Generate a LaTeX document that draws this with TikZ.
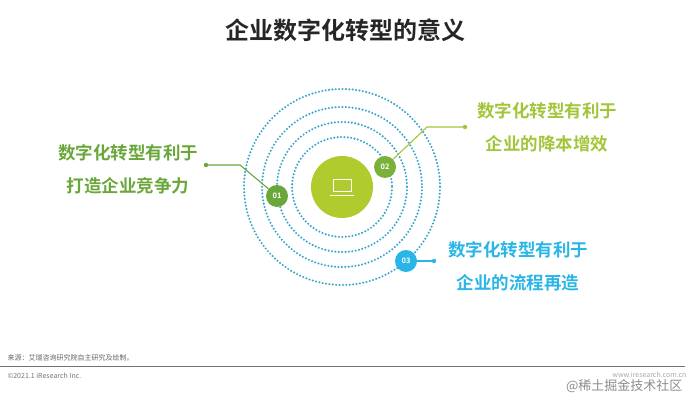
\documentclass[tikz,border=0pt]{standalone}
\usepackage{fontspec}
\newfontfamily\cjk{Noto Sans CJK SC}
\newfontfamily\cjkb{Noto Sans CJK SC Bold}
\begin{document}
\begin{tikzpicture}[x=1pt,y=-1pt,
  ring/.style={draw=ringc, line width=2.3pt, dash pattern=on 0pt off 3.4pt, line cap=round},
  badge/.style={circle, minimum size=22pt, inner sep=0pt, text=white, font=\cjkb\fontsize{7.5}{7.5}\selectfont},
  lead/.style={line width=1.1pt},
  txt/.style={font=\cjkb\fontsize{17.5}{33}\selectfont, align=center}]
\definecolor{g1}{HTML}{6AA73A}
\definecolor{g2}{HTML}{A2C53A}
\definecolor{b1}{HTML}{29B6E6}
\definecolor{core}{HTML}{AFCB2E}
\definecolor{ringc}{HTML}{3AA6C8}
\useasboundingbox (0,0) rectangle (695,404);
\node[font=\cjkb\fontsize{24}{24}\selectfont, text=black!85] (title) at (345,30) {企业数字化转型的意义};
\coordinate (c) at (342,187);
\foreach \r in {50,65,80,98} \draw[ring] (c) circle (\r);
\node[circle, fill=core, minimum size=62pt, inner sep=0pt] (core) at (c) {};
\draw[white, line width=1pt] (333,179) rectangle (351,191);
\draw[white, line width=1pt] (330,195) -- (354,195);
\node[badge, fill=g1] (b1n) at (277,196) {01};
\node[badge, fill=g1!70!g2] (b2n) at (385,167) {02};
\node[badge, fill=b1] (b3n) at (406,261) {03};
\coordinate (k1) at (240,165); \coordinate (e1) at (206,165);
\coordinate (k2) at (427,127); \coordinate (e2) at (465,127);
\coordinate (e3) at (434,261);
\draw[lead, draw=g1] (b1n) -- (k1) -- (e1);
\fill[g1] (e1) circle (2.2);
\draw[lead, draw=g2] (b2n) -- (k2) -- (e2);
\fill[g2] (e2) circle (2.2);
\draw[lead, draw=b1] (b3n) -- (e3);
\fill[b1] (e3) circle (2.2);
\node[txt, text=g1] (t1) at (128,169) {数字化转型有利于\\打造企业竞争力};
\node[txt, text=g2] (t2) at (547,127) {数字化转型有利于\\企业的降本增效};
\node[txt, text=b1] (t3) at (518,266) {数字化转型有利于\\企业的流程再造};
\node[anchor=west, font=\cjk\fontsize{7}{7}\selectfont, text=black!60] (src) at (4,358) {来源：艾瑞咨询研究院自主研究及绘制。};
\draw[black!55, line width=0.6pt] (0,366) -- (685,366);
\node[anchor=west, font=\cjk\fontsize{7}{7}\selectfont, text=black!55] (cp) at (4,376) {©2021.1 iResearch Inc.};
\node[anchor=east, font=\cjk\fontsize{7}{7}\selectfont, text=black!35] (web) at (690,375) {www.iresearch.com.cn};
\node[anchor=east, font=\cjk\fontsize{13}{13}\selectfont, text=black!45] (wm) at (686,386) {@稀土掘金技术社区};
\end{tikzpicture}
\end{document}
